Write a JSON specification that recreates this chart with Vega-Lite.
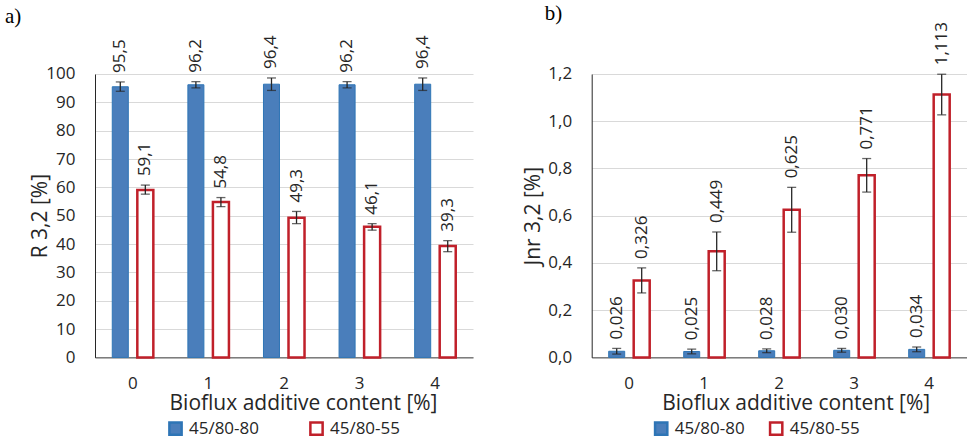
{
  "$schema": "https://vega.github.io/schema/vega-lite/v6.json",
  "padding": {"left": 5, "top": 2, "right": 0, "bottom": 0},
  "background": "white",
  "config": {
    "locale": {"number": {"decimal": ",", "thousands": ".", "grouping": [3], "currency": ["", " €"]}},
    "font": "Open Sans",
    "view": {"stroke": null},
    "axis": {"labelColor": "#262626", "titleColor": "#262626", "titleFontWeight": "normal", "labelFontSize": 17, "titleFontSize": 21, "ticks": false, "labelOverlap": false}
  },
  "datasets": {
    "a": [
      {"c": "0", "s": "45/80-80", "v": 95.5, "lo": 93.9, "hi": 97.2},
      {"c": "0", "s": "45/80-55", "v": 59.1, "lo": 57.6, "hi": 60.8},
      {"c": "1", "s": "45/80-80", "v": 96.2, "lo": 95.1, "hi": 97.3},
      {"c": "1", "s": "45/80-55", "v": 54.8, "lo": 53.2, "hi": 56.4},
      {"c": "2", "s": "45/80-80", "v": 96.4, "lo": 94.2, "hi": 98.6},
      {"c": "2", "s": "45/80-55", "v": 49.3, "lo": 47.2, "hi": 51.5},
      {"c": "3", "s": "45/80-80", "v": 96.2, "lo": 95.1, "hi": 97.3},
      {"c": "3", "s": "45/80-55", "v": 46.1, "lo": 44.9, "hi": 47.2},
      {"c": "4", "s": "45/80-80", "v": 96.4, "lo": 94.2, "hi": 98.6},
      {"c": "4", "s": "45/80-55", "v": 39.3, "lo": 37.3, "hi": 41.2}
    ],
    "b": [
      {"c": "0", "s": "45/80-80", "v": 0.026, "lo": 0.014, "hi": 0.038},
      {"c": "0", "s": "45/80-55", "v": 0.326, "lo": 0.273, "hi": 0.379},
      {"c": "1", "s": "45/80-80", "v": 0.025, "lo": 0.015, "hi": 0.035},
      {"c": "1", "s": "45/80-55", "v": 0.449, "lo": 0.367, "hi": 0.531},
      {"c": "2", "s": "45/80-80", "v": 0.028, "lo": 0.020, "hi": 0.036},
      {"c": "2", "s": "45/80-55", "v": 0.625, "lo": 0.530, "hi": 0.720},
      {"c": "3", "s": "45/80-80", "v": 0.030, "lo": 0.022, "hi": 0.038},
      {"c": "3", "s": "45/80-55", "v": 0.771, "lo": 0.700, "hi": 0.842},
      {"c": "4", "s": "45/80-80", "v": 0.034, "lo": 0.024, "hi": 0.044},
      {"c": "4", "s": "45/80-55", "v": 1.113, "lo": 1.027, "hi": 1.199}
    ]
  },
  "bounds": "flush",
  "spacing": 118.7,
  "resolve": {
    "scale": {"x": "independent", "y": "independent", "xOffset": "independent", "fill": "independent", "stroke": "independent"},
    "legend": {"fill": "independent", "stroke": "independent"}
  },
  "hconcat": [
    {
      "width": 378,
      "height": 283.4,
      "data": {"name": "a"},
      "title": {"text": "a)", "anchor": "start", "frame": "group", "dx": -90, "offset": 8, "font": "Liberation Serif", "fontSize": 21, "fontWeight": "normal", "color": "#000000"},
      "encoding": {
        "x": {"field": "c", "type": "nominal", "title": "Bioflux additive content [%]",
          "scale": {"paddingInner": 0, "paddingOuter": 0},
          "axis": {"labelAngle": 0, "domainColor": "#404040", "labelPadding": 18, "titlePadding": 1, "titleX": 208, "grid": false}},
        "xOffset": {"field": "s", "type": "nominal", "scale": {"domain": ["45/80-80", "45/80-55"], "paddingInner": 0.36, "paddingOuter": 0.69}}
      },
      "layer": [
        {
          "mark": {"type": "bar"},
          "encoding": {
            "y": {"field": "v", "type": "quantitative", "title": "R 3,2 [%]",
              "scale": {"domain": [0, 100], "nice": false},
              "axis": {"values": [0, 10, 20, 30, 40, 50, 60, 70, 80, 90, 100], "format": "d", "grid": true, "gridColor": "#d9d9d9", "domainColor": "#262626", "labelPadding": 20, "titlePadding": -5}},
            "fill": {"field": "s", "type": "nominal", "scale": {"domain": ["45/80-80", "45/80-55"], "range": ["#4a7ebb", "#ffffff"]},
              "legend": {"orient": "none", "legendX": 72, "legendY": 346, "direction": "horizontal", "title": null, "symbolType": "square", "symbolSize": 150, "symbolStrokeWidth": 2.5, "labelFontSize": 17, "labelColor": "#262626", "columnPadding": 45, "labelOffset": 5}},
            "stroke": {"field": "s", "type": "nominal", "scale": {"domain": ["45/80-80", "45/80-55"], "range": ["#2e75b6", "#c0202a"]},
              "legend": {"orient": "none", "legendX": 72, "legendY": 346, "direction": "horizontal", "title": null, "symbolType": "square", "symbolSize": 150, "symbolStrokeWidth": 2.5, "labelFontSize": 17, "labelColor": "#262626", "columnPadding": 45, "labelOffset": 5}},
            "strokeWidth": {"condition": {"test": "datum.s === '45/80-55'", "value": 2.5}, "value": 1}
          }
        },
        {
          "mark": {"type": "rule", "color": "#262626", "strokeWidth": 1.3},
          "encoding": {"y": {"field": "lo", "type": "quantitative", "title": "R 3,2 [%]",
              "scale": {"domain": [0, 100], "nice": false},
              "axis": {"values": [0, 10, 20, 30, 40, 50, 60, 70, 80, 90, 100], "format": "d", "grid": true, "gridColor": "#d9d9d9", "domainColor": "#262626", "labelPadding": 20, "titlePadding": -5}}, "y2": {"field": "hi"}}
        },
        {
          "mark": {"type": "tick", "orient": "horizontal", "size": 9, "thickness": 1.3, "color": "#262626"},
          "encoding": {"y": {"field": "lo", "type": "quantitative", "title": "R 3,2 [%]",
              "scale": {"domain": [0, 100], "nice": false},
              "axis": {"values": [0, 10, 20, 30, 40, 50, 60, 70, 80, 90, 100], "format": "d", "grid": true, "gridColor": "#d9d9d9", "domainColor": "#262626", "labelPadding": 20, "titlePadding": -5}}}
        },
        {
          "mark": {"type": "tick", "orient": "horizontal", "size": 9, "thickness": 1.3, "color": "#262626"},
          "encoding": {"y": {"field": "hi", "type": "quantitative", "title": "R 3,2 [%]",
              "scale": {"domain": [0, 100], "nice": false},
              "axis": {"values": [0, 10, 20, 30, 40, 50, 60, 70, 80, 90, 100], "format": "d", "grid": true, "gridColor": "#d9d9d9", "domainColor": "#262626", "labelPadding": 20, "titlePadding": -5}}}
        },
        {
          "mark": {"type": "text", "angle": 270, "align": "left", "baseline": "middle", "dx": 9, "fontSize": 17, "color": "#262626"},
          "encoding": {"y": {"field": "hi", "type": "quantitative", "title": "R 3,2 [%]",
              "scale": {"domain": [0, 100], "nice": false},
              "axis": {"values": [0, 10, 20, 30, 40, 50, 60, 70, 80, 90, 100], "format": "d", "grid": true, "gridColor": "#d9d9d9", "domainColor": "#262626", "labelPadding": 20, "titlePadding": -5}}, "text": {"field": "v", "type": "quantitative", "format": ".1f"}}
        }
      ]
    },
    {
      "width": 375,
      "height": 283.4,
      "data": {"name": "b"},
      "title": {"text": "b)", "anchor": "start", "frame": "group", "dx": -47, "offset": -2, "font": "Liberation Serif", "fontSize": 21, "fontWeight": "normal", "color": "#000000"},
      "encoding": {
        "x": {"field": "c", "type": "nominal", "title": "Bioflux additive content [%]",
          "scale": {"paddingInner": 0, "paddingOuter": 0},
          "axis": {"labelAngle": 0, "domainColor": "#404040", "labelPadding": 18, "titlePadding": 1, "titleX": 204, "grid": false}},
        "xOffset": {"field": "s", "type": "nominal", "scale": {"domain": ["45/80-80", "45/80-55"], "paddingInner": 0.36, "paddingOuter": 0.68}}
      },
      "layer": [
        {
          "mark": {"type": "bar"},
          "encoding": {
            "y": {"field": "v", "type": "quantitative", "title": "Jnr 3,2 [%]",
              "scale": {"domain": [0, 1.2], "nice": false},
              "axis": {"values": [0, 0.2, 0.4, 0.6, 0.8, 1.0, 1.2], "format": ".1f", "grid": true, "gridColor": "#d9d9d9", "domainColor": "#262626", "labelPadding": 20, "titlePadding": 4}},
            "fill": {"field": "s", "type": "nominal", "scale": {"domain": ["45/80-80", "45/80-55"], "range": ["#4a7ebb", "#ffffff"]},
              "legend": {"orient": "none", "legendX": 61, "legendY": 346, "direction": "horizontal", "title": null, "symbolType": "square", "symbolSize": 150, "symbolStrokeWidth": 2.5, "labelFontSize": 17, "labelColor": "#262626", "columnPadding": 19, "labelOffset": 5}},
            "stroke": {"field": "s", "type": "nominal", "scale": {"domain": ["45/80-80", "45/80-55"], "range": ["#2e75b6", "#c0202a"]},
              "legend": {"orient": "none", "legendX": 61, "legendY": 346, "direction": "horizontal", "title": null, "symbolType": "square", "symbolSize": 150, "symbolStrokeWidth": 2.5, "labelFontSize": 17, "labelColor": "#262626", "columnPadding": 19, "labelOffset": 5}},
            "strokeWidth": {"condition": {"test": "datum.s === '45/80-55'", "value": 2.5}, "value": 1}
          }
        },
        {
          "mark": {"type": "rule", "color": "#262626", "strokeWidth": 1.3},
          "encoding": {"y": {"field": "lo", "type": "quantitative", "title": "Jnr 3,2 [%]",
              "scale": {"domain": [0, 1.2], "nice": false},
              "axis": {"values": [0, 0.2, 0.4, 0.6, 0.8, 1.0, 1.2], "format": ".1f", "grid": true, "gridColor": "#d9d9d9", "domainColor": "#262626", "labelPadding": 20, "titlePadding": 4}}, "y2": {"field": "hi"}}
        },
        {
          "mark": {"type": "tick", "orient": "horizontal", "size": 9, "thickness": 1.3, "color": "#262626"},
          "encoding": {"y": {"field": "lo", "type": "quantitative", "title": "Jnr 3,2 [%]",
              "scale": {"domain": [0, 1.2], "nice": false},
              "axis": {"values": [0, 0.2, 0.4, 0.6, 0.8, 1.0, 1.2], "format": ".1f", "grid": true, "gridColor": "#d9d9d9", "domainColor": "#262626", "labelPadding": 20, "titlePadding": 4}}}
        },
        {
          "mark": {"type": "tick", "orient": "horizontal", "size": 9, "thickness": 1.3, "color": "#262626"},
          "encoding": {"y": {"field": "hi", "type": "quantitative", "title": "Jnr 3,2 [%]",
              "scale": {"domain": [0, 1.2], "nice": false},
              "axis": {"values": [0, 0.2, 0.4, 0.6, 0.8, 1.0, 1.2], "format": ".1f", "grid": true, "gridColor": "#d9d9d9", "domainColor": "#262626", "labelPadding": 20, "titlePadding": 4}}}
        },
        {
          "mark": {"type": "text", "angle": 270, "align": "left", "baseline": "middle", "dx": 9, "fontSize": 17, "color": "#262626"},
          "encoding": {"y": {"field": "hi", "type": "quantitative", "title": "Jnr 3,2 [%]",
              "scale": {"domain": [0, 1.2], "nice": false},
              "axis": {"values": [0, 0.2, 0.4, 0.6, 0.8, 1.0, 1.2], "format": ".1f", "grid": true, "gridColor": "#d9d9d9", "domainColor": "#262626", "labelPadding": 20, "titlePadding": 4}}, "text": {"field": "v", "type": "quantitative", "format": ".3f"}}
        }
      ]
    }
  ]
}
